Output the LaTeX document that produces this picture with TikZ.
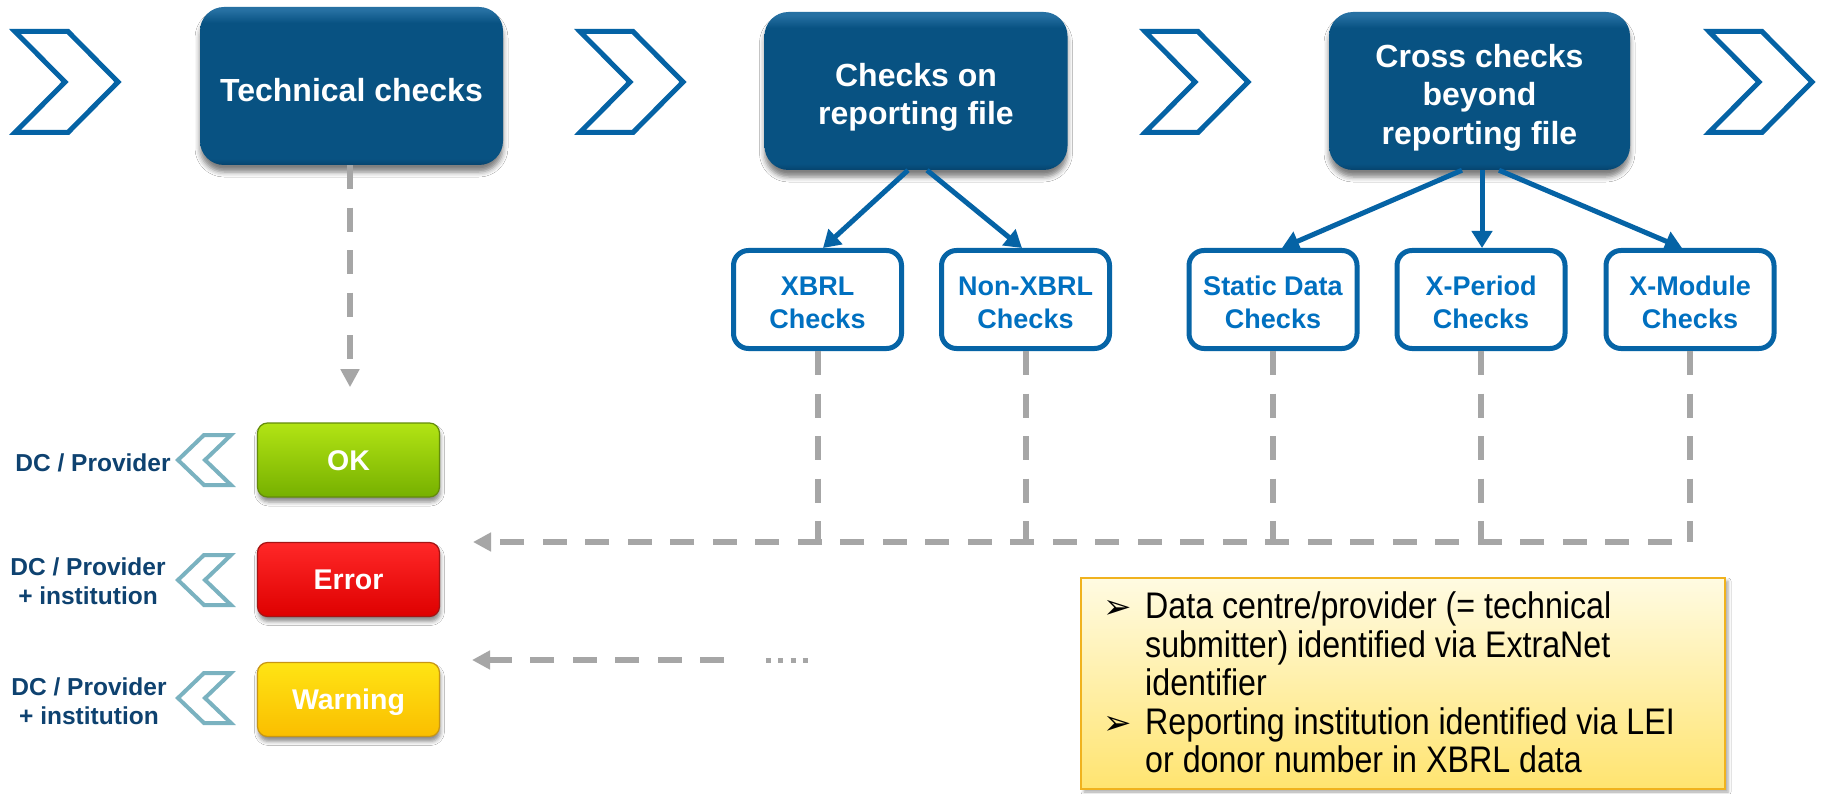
\documentclass[tikz,border=0pt]{standalone}
\usepackage{fontspec}
\setmainfont{Liberation Sans}
\newfontfamily\narrowfont[FakeStretch=0.87]{Liberation Sans}
\newfontfamily\symfont{DejaVu Sans}
\usetikzlibrary{arrows.meta,calc,shadows.blur}

% palette
\definecolor{chevblue}{RGB}{5,99,165}
\definecolor{bmain}{RGB}{8,82,130}
\definecolor{blight}{RGB}{38,112,162}
\definecolor{bdark}{RGB}{6,68,110}
\definecolor{subblue}{RGB}{6,100,166}
\definecolor{subtext}{RGB}{0,112,192}
\definecolor{navy}{RGB}{14,66,112}
\definecolor{tealchev}{RGB}{122,178,192}
\definecolor{dashgray}{RGB}{166,166,166}
\definecolor{okTop}{RGB}{178,228,20}
\definecolor{okBot}{RGB}{118,176,0}
\definecolor{okEdge}{RGB}{100,140,10}
\definecolor{errTop}{RGB}{255,40,40}
\definecolor{errBot}{RGB}{222,0,0}
\definecolor{errEdge}{RGB}{165,20,20}
\definecolor{warnTop}{RGB}{255,228,20}
\definecolor{warnBot}{RGB}{250,190,0}
\definecolor{warnEdge}{RGB}{200,150,20}
\definecolor{noteTop}{RGB}{255,251,226}
\definecolor{noteBot}{RGB}{255,228,112}
\definecolor{noteEdge}{RGB}{240,178,30}

% glossy fill of the stage boxes (middle 50bp maps onto the box)
\pgfdeclareverticalshading{bluegloss}{100bp}{color(0bp)=(bdark); color(25bp)=(bdark); color(27bp)=(bmain); color(70bp)=(bmain); color(74bp)=(blight); color(100bp)=(blight)}

\tikzset{
  stage/.style={shade, shading=bluegloss, rounded corners=24pt,
    minimum width=303pt, minimum height=158pt, text=white, align=center,
    font=\bfseries\fontsize{32}{38.5}\selectfont,
    blur shadow={shadow xshift=0pt, shadow yshift=-7pt, shadow blur radius=5pt, shadow opacity=50}},
  subcheck/.style={draw=subblue, line width=5pt, fill=white, rounded corners=15pt,
    minimum width=168pt, minimum height=98pt, text=subtext, align=center,
    font=\bfseries\fontsize{27}{33}\selectfont},
  status/.style={rounded corners=10pt, minimum width=182pt, minimum height=74pt,
    text=white, line width=1.2pt, text height=20.5pt, text depth=0pt,
    font=\bfseries\fontsize{28.5}{34}\selectfont,
    blur shadow={shadow xshift=1pt, shadow yshift=-5pt, shadow blur radius=4pt, shadow opacity=45}},
  who/.style={text=navy, align=center, font=\bfseries\fontsize{24.5}{29}\selectfont},
  notebox/.style={draw=noteEdge, line width=2pt, top color=noteTop, bottom color=noteBot,
    minimum width=644pt, minimum height=211pt,
    blur shadow={shadow xshift=3pt, shadow yshift=-3pt, shadow blur radius=3pt, shadow opacity=35}},
  notetext/.style={inner sep=0pt, align=left, text=black,
    font=\narrowfont\fontsize{37}{38.5}\selectfont},
  flow/.style={draw=chevblue, line width=5pt, -{Triangle[length=17pt,width=20pt]}},
  feedback/.style={draw=dashgray, line width=6pt, dash pattern=on 24pt off 18.5pt},
  tipped/.style={-{Triangle[length=18pt,width=18pt]}},
  chevron/.style={draw=chevblue, line width=5pt, line join=miter},
  backchevron/.style={draw=tealchev, line width=4pt, line join=miter},
  pics/nextstep/.style={code={\draw[chevron] (3,31.5) -- (56,31.5) -- (106,82) -- (56,132.5) -- (3,132.5) -- (53,82) -- cycle;}},
  pics/backstep/.style={code={\draw[backchevron] (231,-25) -- (204,-25) -- (178,0) -- (204,25) -- (231,25) -- (205,0) -- cycle;}},
}

% invisible strut that lowers a label block inside its box
\newcommand{\topstrut}[1]{\rule{0pt}{#1}}
\newcommand{\notebullet}{\makebox[42pt][l]{\symfont\fontsize{34}{34}\selectfont ➢}}

\begin{document}
\begin{tikzpicture}[x=1pt, y=-1pt]
  \fill[white] (0,0) rectangle (1822,794);
  \useasboundingbox (0,0) rectangle (1822,794);

  % process chevrons along the top
  \pic at (12,0) {nextstep};
  \pic at (577,0) {nextstep};
  \pic at (1142,0) {nextstep};
  \pic at (1706,0) {nextstep};

  % stages
  \node[stage] (tech) at (351.5,86) {\topstrut{31pt}Technical checks};
  \node[stage] (rep) at (916,91) {\topstrut{36pt}Checks on\\reporting file};
  \node[stage, minimum width=301pt] (cross) at (1479.5,91) {\topstrut{36pt}Cross checks\\beyond\\reporting file};

  % individual check groups
  \node[subcheck] (xbrl) at (817.5,299.5) {\topstrut{26pt}XBRL\\Checks};
  \node[subcheck] (nonxbrl) at (1025.5,299.5) {\topstrut{26pt}Non-XBRL\\Checks};
  \node[subcheck] (static) at (1273,299.5) {\topstrut{26pt}Static Data\\Checks};
  \node[subcheck] (xper) at (1481,299.5) {\topstrut{26pt}X-Period\\Checks};
  \node[subcheck] (xmod) at (1690,299.5) {\topstrut{26pt}X-Module\\Checks};

  \draw[flow] ($(rep.south)+(-8,0)$) -- ($(xbrl.north)+(5.5,0)$);
  \draw[flow] ($(rep.south)+(11,0)$) -- ($(nonxbrl.north)+(-3.5,0)$);
  \draw[flow] ($(cross.south)+(-17.5,0)$) -- ($(static.north)+(9,0)$);
  \draw[flow] ($(cross.south)+(2.5,0)$) -- ($(xper.north)+(1,0)$);
  \draw[flow] ($(cross.south)+(19.5,0)$) -- ($(xmod.north)+(-8,0)$);

  % results
  \node[status, top color=okTop, bottom color=okBot, draw=okEdge] (ok) at (348.5,460) {OK};
  \node[status, top color=errTop, bottom color=errBot, draw=errEdge] (err) at (348.5,579.5) {Error};
  \node[status, top color=warnTop, bottom color=warnBot, draw=warnEdge] (warn) at (348.5,699.5) {Warning};

  % recipients of the feedback
  \pic at (0,460) {backstep};
  \pic at (0,580) {backstep};
  \pic at (0,698) {backstep};
  \node[who] (okwho) at (93,463) {DC / Provider};
  \node[who] (errwho) at (88,581.5) {DC / Provider\\+ institution};
  \node[who] (warnwho) at (89,701.5) {DC / Provider\\+ institution};

  % feedback paths
  \coordinate (techtip) at ($(tech.south)+(-1.5,222)$);
  \draw[feedback, tipped] (tech.south -| techtip) -- (techtip);

  \coordinate (joint) at (0,542);
  \coordinate (errtip) at (473,542);
  \foreach \src in {xbrl,nonxbrl,static,xper,xmod}
    \draw[feedback] (\src.south) -- (\src.south |- joint);
  \draw[feedback, tipped, dash phase=24pt] (xmod.south |- joint) -- (errtip);

  \coordinate (warnfrom) at (724,660);
  \coordinate (warntip) at (472,660);
  \coordinate (dotsfrom) at (766,660);
  \coordinate (dotsto) at (808,660);
  \draw[feedback, tipped] (warnfrom) -- (warntip);
  \draw[dashgray, line width=5pt, dash pattern=on 5pt off 7.3pt] (dotsfrom) -- (dotsto);

  % identification note
  \node[notebox] (note) at (1403,683.5) {};
  \node[notetext, anchor=west] (notetxt) at ($(note.west)+(23,4.5)$) {%
    \begin{tabular}{@{}l@{}l@{}}
      \notebullet & Data centre/provider (= technical\\
                  & submitter) identified via ExtraNet\\
                  & identifier\\
      \notebullet & Reporting institution identified via LEI\\
                  & or donor number in XBRL data
    \end{tabular}};
\end{tikzpicture}
\end{document}
